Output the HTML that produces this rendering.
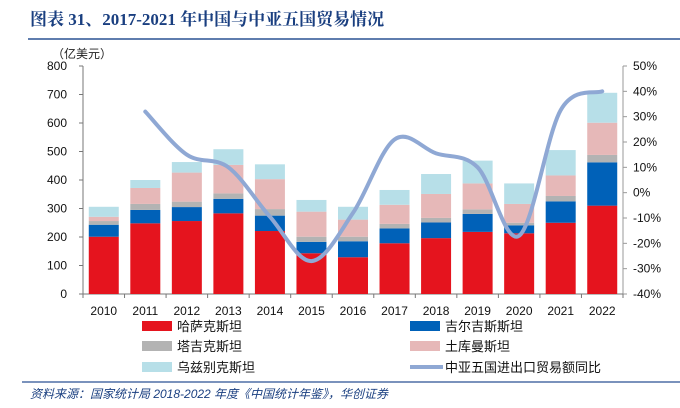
<!DOCTYPE html>
<html><head><meta charset="utf-8"><style>
body{margin:0;width:680px;height:408px;background:#fff;overflow:hidden;font-family:"Liberation Sans","Noto Sans CJK SC",sans-serif}
svg{position:absolute;left:0;top:0}
</style></head><body>
<svg width="680" height="408" id="chart">
<text x="30" y="25" font-size="17" font-weight="bold" fill="#1a3f80" font-family="'Liberation Serif','Noto Serif CJK SC',serif">图表 31、2017-2021 年中国与中亚五国贸易情况</text>
<line x1="28" y1="39" x2="680" y2="39" stroke="#2a5294" stroke-width="1.5"/>
<text x="52" y="58" font-size="12" fill="#222">（亿美元）</text>
<g id="plot"></g>
<line x1="22" y1="382" x2="680" y2="382" stroke="#2a5294" stroke-width="1.2"/>
<text x="30" y="398" font-size="12" font-style="italic" fill="#1a3f80">资料来源：国家统计局 2018-2022 年度《中国统计年鉴》，华创证券</text>
</svg>
<script>
const years=["2010","2011","2012","2013","2014","2015","2016","2017","2018","2019","2020","2021","2022"];
const kazakhstan=[201,248,256,283,221,143,129,178,196,218,213,250,310];
const kyrgyzstan=[42,47,49,51,54,40,56,52,55,63,28,75,152];
const tajikistan=[13,21,19,19,23,18,16,16,16,16,9,19,26];
const turkmenistan=[15,56,102,100,105,88,60,67,84,91,66,72,113];
const uzbekistan=[35,28,37,55,52,41,45,52,70,80,72,89,105];
const growth=[null,32,15,10,-9.5,-27,-8,21,15.5,10,-17,32.6,40];
const leftTicks=[0,100,200,300,400,500,600,700,800];
const rightTicks=[-40,-30,-20,-10,0,10,20,30,40,50];
const NS="http://www.w3.org/2000/svg";
const g=document.getElementById('plot');
const X0=83,X1=623,Y0=294,Y1=66;
const step=(X1-X0)/years.length;
const xc=i=>X0+step*(i+0.5);
const yL=v=>Y0-(v/800)*(Y0-Y1);
const yR=p=>Y0-((p+40)/90)*(Y0-Y1);
function el(t,a){const e=document.createElementNS(NS,t);for(const k in a)e.setAttribute(k,a[k]);g.appendChild(e);return e;}
let e;
e=el('line',{x1:X0,y1:Y1,x2:X0,y2:Y0,stroke:'#777'});


e=el('line',{x1:X1,y1:Y1,x2:X1,y2:Y0,stroke:'#999'});


e=el('line',{x1:X0,y1:Y0,x2:X1,y2:Y0,stroke:'#777'});


leftTicks.forEach(v=>{
 el('line',{x1:X0-4,y1:yL(v),x2:X0,y2:yL(v),stroke:'#777'});
 const t=el('text',{x:X0-16,y:yL(v)+4,'font-size':12,'text-anchor':'end',fill:'#111'});t.textContent=v;
 
 
});
rightTicks.forEach(v=>{
 el('line',{x1:X1,y1:yR(v),x2:X1+4,y2:yR(v),stroke:'#999'});
 const t=el('text',{x:X1+10,y:yR(v)+4,'font-size':12,fill:'#111'});t.textContent=v+'%';
 
 
});
for(let i=0;i<=years.length;i++)el('line',{x1:X0+step*i,y1:Y0,x2:X0+step*i,y2:Y0+4,stroke:'#777'});
const series=[[kazakhstan,'#e5141e','kazakhstan'],[kyrgyzstan,'#0061b8','kyrgyzstan'],[tajikistan,'#b3b3b3','tajikistan'],[turkmenistan,'#e6b8b8','turkmenistan'],[uzbekistan,'#b7dfe8','uzbekistan']];
years.forEach((y,i)=>{
 let base=0;
 series.forEach(([arr,c,n])=>{
  const v=arr[i];
  const r=el('rect',{x:xc(i)-15,y:yL(base+v),width:30,height:yL(base)-yL(base+v),fill:c});
  
  
  base+=v;
 });
 const t=el('text',{x:xc(i),y:315,'font-size':12,'text-anchor':'middle',fill:'#111'});t.textContent=y;
 
 
});
const pts=[];growth.forEach((p,i)=>{if(p!==null)pts.push([xc(i),yR(p)]);});
let d='M'+pts[0][0]+','+pts[0][1];
for(let i=0;i<pts.length-1;i++){
 const p0=pts[i-1]||pts[i],p1=pts[i],p2=pts[i+1],p3=pts[i+2]||p2;
 const c1=[p1[0]+(p2[0]-p0[0])/6,p1[1]+(p2[1]-p0[1])/6],c2=[p2[0]-(p3[0]-p1[0])/6,p2[1]-(p3[1]-p1[1])/6];
 d+=` C${c1[0]},${c1[1]} ${c2[0]},${c2[1]} ${p2[0]},${p2[1]}`;
}
e=el('path',{d:d,fill:'none',stroke:'#8fa8d4','stroke-width':4,'stroke-linecap':'round'});


const legend=[['哈萨克斯坦','#e5141e',142,326,'rect'],['吉尔吉斯斯坦','#0061b8',410,326,'rect'],['塔吉克斯坦','#b3b3b3',142,346,'rect'],['土库曼斯坦','#e6b8b8',410,346,'rect'],['乌兹别克斯坦','#b7dfe8',142,367,'rect'],['中亚五国进出口贸易额同比','#8fa8d4',410,367,'line']];
legend.forEach(([n,c,x,y,k])=>{
 let s;
 if(k==='rect')s=el('rect',{x:x,y:y-5,width:30,height:10,fill:c});
 else s=el('line',{x1:x,y1:y,x2:x+33,y2:y,stroke:c,'stroke-width':4});
 
 
 const t=el('text',{x:x+35,y:y+5,'font-size':13,fill:'#111'});t.textContent=n;
 
 
});
</script>
</body></html>
